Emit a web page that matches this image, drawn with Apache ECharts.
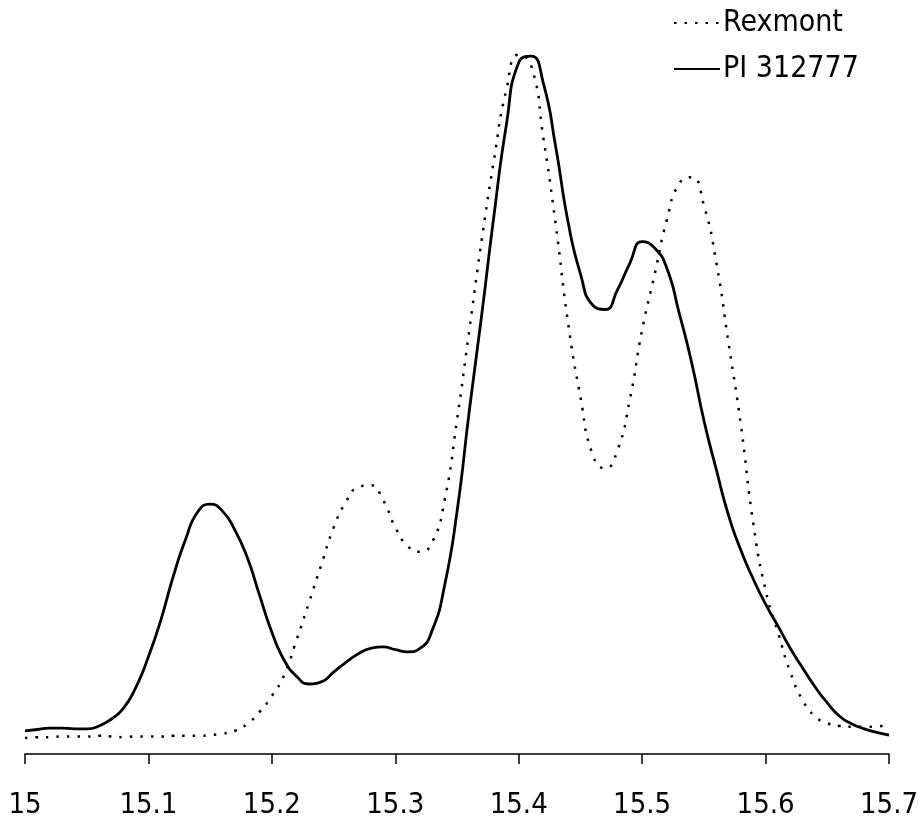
<!DOCTYPE html>
<html>
<head>
<meta charset="utf-8">
<script src="https://cdn.jsdelivr.net/npm/echarts@6/dist/echarts.min.js"></script>
<style>html,body{margin:0;padding:0;background:#fff}#c{width:922px;height:828px}</style>
</head>
<body>
<div id="c"></div>
<script>
var FONT = "'Liberation Sans Narrow','Arial Narrow','DejaVu Sans Condensed','Liberation Sans',Arial,sans-serif";
var xTicks = [15, 15.1, 15.2, 15.3, 15.4, 15.5, 15.6, 15.7];
var seriesNames = ['Rexmont', 'PI 312777'];

var retention = [15.00,15.01,15.02,15.03,15.04,15.05,15.06,15.07,15.08,15.09,
  15.10,15.11,15.12,15.13,15.14,15.15,15.16,15.17,15.18,15.19,
  15.20,15.21,15.22,15.23,15.24,15.25,15.26,15.27,15.28,15.29,
  15.30,15.31,15.32,15.33,15.34,15.35,15.36,15.37,15.38,15.39,
  15.40,15.41,15.42,15.43,15.44,15.45,15.46,15.47,15.48,15.49,
  15.50,15.51,15.52,15.53,15.54,15.55,15.56,15.57,15.58,15.59,
  15.60,15.61,15.62,15.63,15.64,15.65,15.66,15.67,15.68,15.69,15.70];

var rexmont = [2.3,2.4,2.4,2.5,2.5,2.5,2.6,2.5,2.4,2.5,
  2.5,2.5,2.6,2.6,2.6,2.7,2.9,3.3,4.3,6.0,
  8.3,11.3,16.3,21.6,27.0,32.3,36.0,38.1,38.4,36.3,
  32.4,29.7,28.9,30.3,36.3,47.7,60.6,73.4,84.9,94.9,
  99.9,98.4,88.0,75.6,61.6,51.0,42.7,40.8,43.4,50.6,
  60.6,68.4,76.3,81.5,82.4,78.4,70.3,58.7,47.0,33.0,
  23.4,17.4,11.7,7.7,5.4,4.4,4.0,3.9,3.9,3.9,4.5];

var pi312777 = [3.3,3.5,3.7,3.7,3.6,3.6,4.0,5.0,6.6,9.6,
  13.9,19.1,25.3,30.6,34.6,35.7,34.7,32.0,28.1,22.7,
  17.4,13.4,11.1,10.0,10.3,11.7,13.1,14.3,15.1,15.3,
  14.9,14.6,15.1,17.7,24.1,34.6,49.1,62.7,77.0,89.9,
  98.8,99.7,95.8,86.7,76.0,68.6,64.1,63.5,66.3,70.1,
  73.2,72.3,69.4,63.0,56.0,47.7,40.7,34.1,29.1,25.0,
  21.4,18.3,15.1,12.3,9.6,7.3,5.4,4.3,3.6,3.1,2.7];

function pairs(xs, ys) { return xs.map(function (x, i) { return [x, ys[i]]; }); }

var chart = echarts.init(document.getElementById('c'), null, { renderer: 'canvas' });
chart.setOption({
  animation: false,
  backgroundColor: '#fff',
  grid: { left: 25, right: 33, top: 54, bottom: 74, containLabel: false },
  legend: {
    orient: 'vertical',
    left: 668,
    top: 3,
    itemWidth: 46,
    itemHeight: 14,
    itemGap: 16,
    data: seriesNames,
    itemStyle: { color: 'rgba(0,0,0,0)', borderWidth: 0 },
    textStyle: { fontFamily: FONT, fontSize: 30, color: '#000', padding: [0, 0, 0, -2] }
  },
  xAxis: {
    type: 'value', min: 15, max: 15.7, interval: 0.1,
    axisLine: { show: true, lineStyle: { color: '#000', width: 1.5 } },
    axisTick: { show: true, length: 10, lineStyle: { color: '#000', width: 1.5 } },
    splitLine: { show: false },
    axisLabel: {
      margin: 37, fontFamily: FONT, fontSize: 29, color: '#000',
      formatter: function (v) {
        var r = Math.round(v * 10) / 10;
        var idx = xTicks.indexOf(r);
        return idx >= 0 ? String(xTicks[idx]) : '';
      }
    }
  },
  yAxis: { type: 'value', min: 0, max: 100, show: false },
  series: [
    {
      name: seriesNames[0], type: 'line', data: pairs(retention, rexmont), smooth: 0.55,
      symbol: 'none', lineStyle: { color: '#000', width: 2.5, type: [2.5, 8] },
      itemStyle: { color: '#000' }
    },
    {
      name: seriesNames[1], type: 'line', data: pairs(retention, pi312777), smooth: 0.55,
      symbol: 'none', lineStyle: { color: '#000', width: 2.8, type: 'solid' },
      itemStyle: { color: '#000' }
    }
  ]
});
</script>
</body>
</html>
